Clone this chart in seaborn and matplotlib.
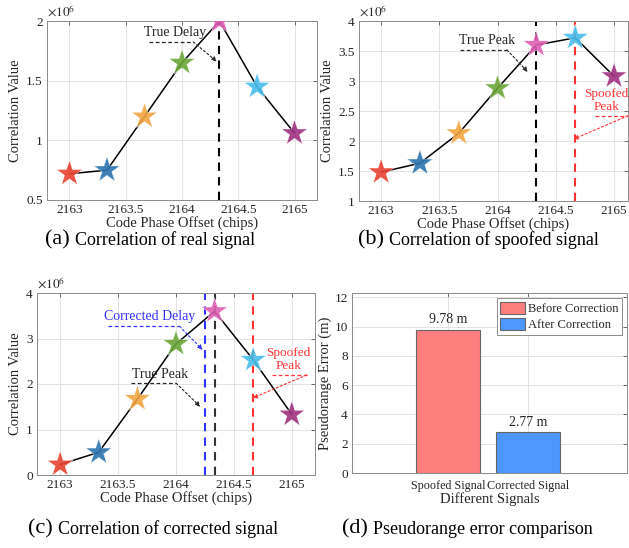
import seaborn as sns
import matplotlib.pyplot as plt
import pandas as pd

# code phase offsets (chips), shared by the three correlation panels
offsets = [2163.0, 2163.333, 2163.667, 2164.0, 2164.333, 2164.667, 2165.0]

# correlation values, in units of 1e6
corr_real = [0.72, 0.75, 1.20, 1.65, 2.00, 1.45, 1.06]
corr_spoofed = [1.48, 1.63, 2.13, 2.88, 3.60, 3.72, 3.08]
corr_corrected = [0.23, 0.50, 1.67, 2.88, 3.60, 2.53, 1.33]

# delays marked with vertical lines
true_delay = 2164.333
spoofed_delay = 2164.667
corrected_delay = 2164.25

# pseudorange errors (m)
signals = ["Spoofed Signal", "Corrected Signal"]
errors = [9.78, 2.77]
states = ["Before Correction", "After Correction"]

star_colors = ["#E8412F", "#2A73B0", "#F2A541", "#6BA539",
               "#DE5FB4", "#48BDEB", "#9E2F80"]
bar_colors = ["#FF7F7F", "#4D97FF"]

sns.set_theme(style="whitegrid")
plt.rcParams['font.family'] = ['Liberation Serif', 'DejaVu Serif']
plt.rcParams['mathtext.fontset'] = 'stix'

fig = plt.figure(figsize=(6.29, 5.48), dpi=100)
W, H = 629, 548


def px_axes(left, top, right, bottom):
    return fig.add_axes([left / W, 1 - bottom / H, (right - left) / W, (bottom - top) / H])


def style_axes(ax, labelsize=9.5):
    for s in ax.spines.values():
        s.set_color("#8c8c8c")
        s.set_linewidth(0.7)
    ax.grid(True, color="#e3e3e3", linewidth=0.7)
    ax.tick_params(direction="in", length=3, width=0.6, color="#555555",
                   labelsize=labelsize, pad=3, top=True, right=True, labelcolor="#262626")
    ax.set_axisbelow(True)


def corr_panel(ax, values, ylim, yticks):
    df = pd.DataFrame({"offset": offsets, "corr": values, "pt": range(len(offsets))})
    sns.lineplot(data=df, x="offset", y="corr", color="black", lw=1.1, ax=ax, zorder=2)
    sns.scatterplot(data=df, x="offset", y="corr", hue="pt", palette=star_colors,
                    marker="*", s=380, linewidth=0.3, edgecolor="white",
                    alpha=0.9, legend=False, ax=ax, zorder=3)
    ax.set_xlim(2162.8, 2165.2)
    ax.set_ylim(*ylim)
    ax.set_xticks([2163, 2163.5, 2164, 2164.5, 2165])
    ax.set_xticklabels(["2163", "2163.5", "2164", "2164.5", "2165"])
    ax.set_yticks(yticks)
    ax.set_yticklabels([f"{t:g}" for t in yticks])
    ax.set_xlabel("Code Phase Offset (chips)", fontsize=10.5, labelpad=0, color="#262626")
    ax.set_ylabel("Correlation Value", fontsize=10.5, labelpad=3, color="#262626")
    ax.text(0.0, 1.01, r"$\times10^{6}$", transform=ax.transAxes, fontsize=9.5,
            color="#262626", va="bottom", ha="left")
    style_axes(ax)


def pointer(ax, text, tx, ty, x0, x1, yh, xa, ya, color, size=10):
    ax.text(tx, ty, text, color=color, fontsize=size, ha="center", va="bottom",
            linespacing=1.1, zorder=5)
    ax.plot([x0, x1], [yh, yh], ls=(0, (3, 2)), color=color, lw=0.9, zorder=4)
    ax.annotate("", xy=(xa, ya), xytext=(x1, yh),
                arrowprops=dict(arrowstyle="-|>", color=color, lw=0.8, ls=(0, (2, 2)),
                                mutation_scale=7, shrinkA=0, shrinkB=0), zorder=4)


def vline(ax, x, color):
    ax.axvline(x, color=color, ls=(0, (4, 3)), lw=1.5, zorder=1)


# (a) real signal
ax_a = px_axes(47, 21, 317, 200)
corr_panel(ax_a, corr_real, (0.5, 2.0), [0.5, 1, 1.5, 2])
vline(ax_a, true_delay, "black")
pointer(ax_a, "True Delay", 2163.94, 1.845, 2163.71, 2164.10, 1.825, 2164.31, 1.66, "#262626")

# (b) spoofed signal
ax_b = px_axes(359, 21, 628, 201)
corr_panel(ax_b, corr_spoofed, (1, 4), [1, 1.5, 2, 2.5, 3, 3.5, 4])
ax_b.set_xlim(2162.81, 2165.12)
vline(ax_b, true_delay, "black")
vline(ax_b, spoofed_delay, "#FF3333")
pointer(ax_b, "True Peak", 2163.91, 3.56, 2163.68, 2164.08, 3.52, 2164.26, 3.15, "#262626")
pointer(ax_b, "Spoofed\nPeak", 2164.935, 2.47, 2164.84, 2165.12, 2.42, 2164.65, 2.03,
        "#FF3333", size=9.5)

# (c) corrected signal
ax_c = px_axes(37, 293, 315, 475)
corr_panel(ax_c, corr_corrected, (0, 4), [0, 1, 2, 3, 4])
vline(ax_c, corrected_delay, "#3333FF")
vline(ax_c, true_delay, "#333333")
vline(ax_c, spoofed_delay, "#FF3333")
pointer(ax_c, "Corrected Delay", 2163.77, 3.33, 2163.41, 2164.03, 3.27, 2164.23, 2.75, "#3333FF")
pointer(ax_c, "True Peak", 2163.86, 2.07, 2163.61, 2164.0, 2.02, 2164.21, 1.5, "#262626")
pointer(ax_c, "Spoofed\nPeak", 2164.97, 2.26, 2164.83, 2165.13, 2.2, 2164.66, 1.69,
        "#FF3333", size=9.5)

# (d) pseudorange error
ax_d = px_axes(352, 293, 627, 473)
df_err = pd.DataFrame({"signal": signals, "error": errors, "state": states})
sns.barplot(data=df_err, x="signal", y="error", hue="state", palette=bar_colors,
            dodge=False, width=0.8, edgecolor="#666666", linewidth=0.8, saturation=1, ax=ax_d)
ax_d.set_xlim(-1.2, 2.23)
ax_d.set_ylim(0, 12.3)
ax_d.set_yticks([0, 2, 4, 6, 8, 10, 12])
for i, v in enumerate(errors):
    ax_d.text(i, v + 0.25, f"{v:.2f} m", ha="center", va="bottom", fontsize=10, color="#262626")
ax_d.set_xlabel("Different Signals", fontsize=10.5, labelpad=0, color="#262626")
ax_d.set_ylabel("Pseudorange Error (m)", fontsize=10.5, labelpad=2, color="#262626")
style_axes(ax_d)
ax_d.tick_params(axis="x", labelsize=8.7, pad=5)
leg = ax_d.legend(loc="upper right", fontsize=9, frameon=True, fancybox=False,
                  edgecolor="#8c8c8c", borderpad=0.3, handlelength=2.0, handleheight=1.1,
                  handletextpad=0.2, labelspacing=0.2, borderaxespad=0.4, framealpha=1)
leg.get_frame().set_linewidth(0.7)
for p in leg.get_patches():
    p.set_edgecolor("#666666")

# sub-captions
captions = [
    (45, 240, "(a)", "Correlation of real signal"),
    (358, 240, "(b)", "Correlation of spoofed signal"),
    (28, 529, "(c)", "Correlation of corrected signal"),
    (342, 529, "(d)", "Pseudorange error comparison"),
]
for x, y, tag, cap in captions:
    t = fig.text(x / W, 1 - y / H, tag, fontsize=16, va="center", ha="left", color="black")
    fig.canvas.draw()
    bb = t.get_window_extent()
    fig.text((bb.x1 + 5) / W, 1 - y / H, cap, fontsize=13, va="center", ha="left", color="black")

fig.savefig("out.png", dpi=100)
